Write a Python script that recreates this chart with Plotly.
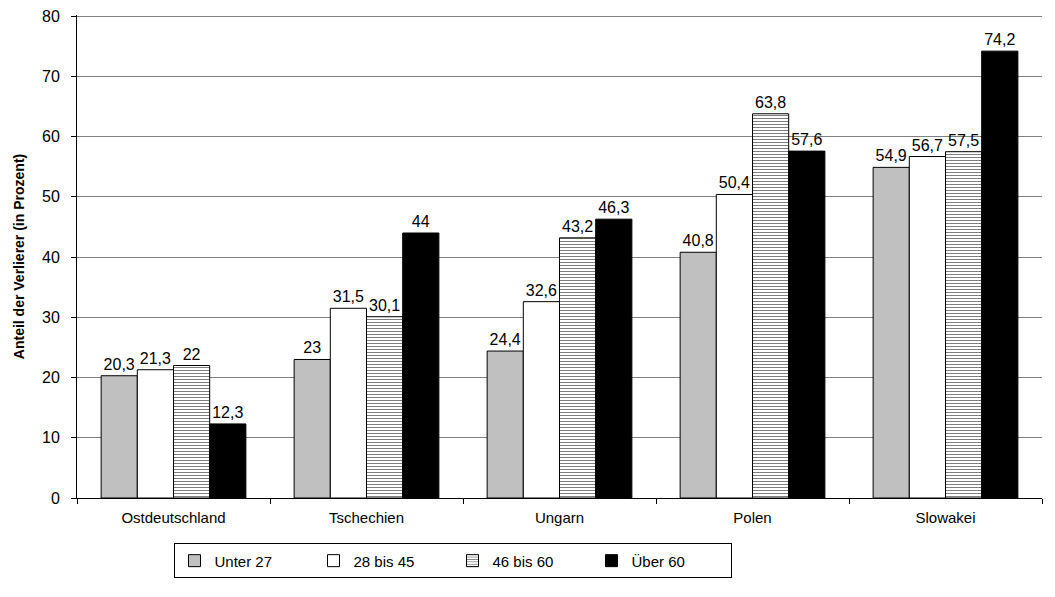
import plotly.graph_objects as go

countries = ["Ostdeutschland", "Tschechien", "Ungarn", "Polen", "Slowakei"]
unter27 = [20.3, 23, 24.4, 40.8, 54.9]
bis45 = [21.3, 31.5, 32.6, 50.4, 56.7]
bis60 = [22, 30.1, 43.2, 63.8, 57.5]
ueber60 = [12.3, 44, 46.3, 57.6, 74.2]
series_names = ["Unter 27", "28 bis 45", "46 bis 60", "Über 60"]

def fmt(v):
    s = ("%g" % v)
    return s.replace(".", ",")

fig = go.Figure()
styles = [
    dict(color="#c0c0c0"),
    dict(color="#ffffff"),
    dict(color="#ffffff", pattern=dict(shape="-", fgcolor="#000000", bgcolor="#ffffff", size=3, solidity=0.35)),
    dict(color="#000000"),
]
for name, vals, st in zip(series_names, [unter27, bis45, bis60, ueber60], styles):
    fig.add_trace(go.Bar(
        x=countries, y=vals, name=name,
        text=[fmt(v) for v in vals], textposition="outside", cliponaxis=False,
        textfont=dict(family="Arial, Liberation Sans", size=16, color="#000"),
        marker=dict(line=dict(color="#000", width=1), **st),
    ))

fig.update_layout(
    width=1055, height=597,
    margin=dict(l=77, r=13, t=15, b=99, autoexpand=False),
    paper_bgcolor="white", plot_bgcolor="white",
    barmode="group", bargap=0.25, bargroupgap=0,
    font=dict(family="Arial, Liberation Sans", size=14, color="#000"),
    showlegend=True,
    legend=dict(orientation="h", x=0.1, y=-0.094, xanchor="left", yanchor="top",
                bordercolor="#000", borderwidth=1, font=dict(size=15),
                itemwidth=30, entrywidth=94, traceorder="normal"),
)
fig.update_yaxes(range=[0, 80.2], dtick=10, showgrid=True, gridcolor="#808080", gridwidth=1,
                 showline=True, linecolor="#000", ticks="outside", ticklen=5, tickcolor="#000",
                 automargin=False, tickfont=dict(size=16), ticklabelstandoff=8,
                 ticklabeloverflow="allow",
                 title=dict(text="<b>Anteil der Verlierer (in Prozent)</b>", font=dict(size=14), standoff=14),
                 zeroline=False)
fig.update_xaxes(showline=True, linecolor="#000", ticks="outside", tickson="boundaries", ticklen=5,
                 tickcolor="#000", mirror=False, automargin=False, tickfont=dict(size=15),
                 ticklabelstandoff=6)

fig.write_html("out.html", post_script="document.body.style.margin='0';",
               config={"displayModeBar": False})
